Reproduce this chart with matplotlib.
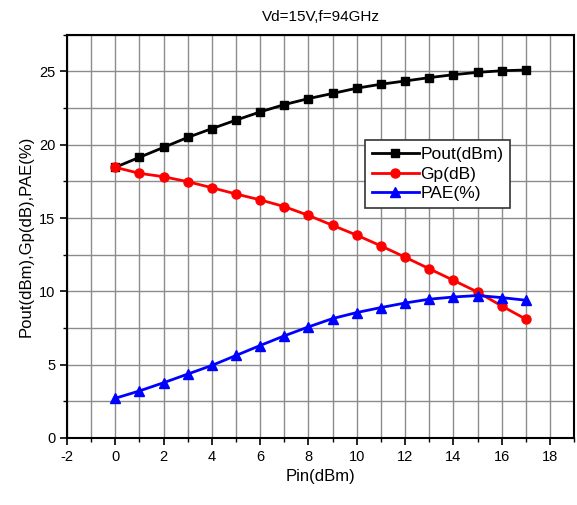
import matplotlib; matplotlib.use("Agg")
import matplotlib.pyplot as plt
from matplotlib.ticker import MultipleLocator

plt.rcParams['font.family'] = ['Liberation Sans', 'DejaVu Sans']
plt.rcParams['axes.unicode_minus'] = False

pin = list(range(0, 18))
pout = [18.46, 19.14, 19.82, 20.5, 21.1, 21.68, 22.24, 22.74, 23.15, 23.5,
        23.86, 24.13, 24.35, 24.58, 24.78, 24.94, 25.05, 25.1]
gp = [18.46, 18.05, 17.82, 17.48, 17.07, 16.64, 16.24, 15.78, 15.18, 14.5,
      13.83, 13.1, 12.33, 11.54, 10.75, 9.95, 9.0, 8.1]
pae = [2.7, 3.2, 3.76, 4.35, 4.94, 5.62, 6.3, 6.96, 7.57, 8.14,
       8.55, 8.89, 9.2, 9.46, 9.61, 9.71, 9.57, 9.39]

fig = plt.figure(figsize=(5.77, 5.05), dpi=100)
ax = fig.add_axes([0.116, 0.133, 0.879, 0.798])

ax.plot(pin, pout, color='black', lw=2, marker='s', ms=6, label='Pout(dBm)', zorder=3)
ax.plot(pin, gp, color='red', lw=2, marker='o', ms=6.5, label='Gp(dB)', zorder=3)
ax.plot(pin, pae, color='blue', lw=2, marker='^', ms=7, label='PAE(%)', zorder=3)

ax.set_xlim(-2, 19)
ax.set_ylim(0, 27.5)
ax.xaxis.set_major_locator(MultipleLocator(2))
ax.xaxis.set_minor_locator(MultipleLocator(1))
ax.yaxis.set_major_locator(MultipleLocator(5))
ax.yaxis.set_minor_locator(MultipleLocator(2.5))
ax.grid(True, which='both', color='#8c8c8c', lw=1, zorder=0)
ax.set_axisbelow(True)
ax.tick_params(which='major', direction='out', length=5, width=1.2, labelsize=10.5)
ax.tick_params(which='minor', direction='out', length=3, width=1)
for s in ax.spines.values():
    s.set_linewidth(1.5)

ax.set_xlabel('Pin(dBm)', fontsize=12)
ax.set_ylabel('Pout(dBm),Gp(dB),PAE(%)', fontsize=12)
ax.set_title('Vd=15V,f=94GHz', fontsize=11, pad=10)

leg = ax.legend(loc='upper left', bbox_to_anchor=(0.57, 0.76), fontsize=12.5,
                fancybox=False, framealpha=1, edgecolor='#333333',
                handlelength=2.7, handletextpad=0.1, borderpad=0.4, labelspacing=0.25)
leg.get_frame().set_linewidth(1.2)

fig.savefig('out.png', dpi=100, facecolor='white')
